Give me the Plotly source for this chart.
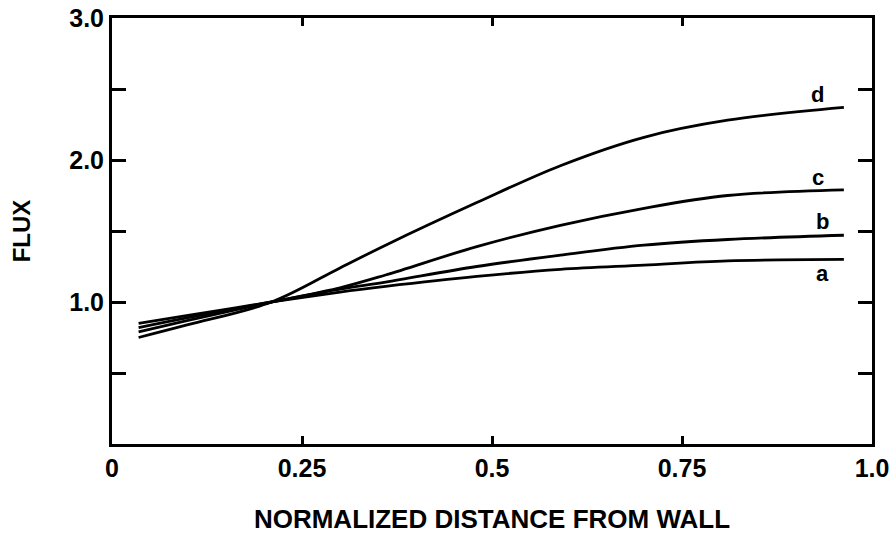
import plotly.graph_objects as go

x_vals = [0.035, 0.1, 0.21, 0.3, 0.36, 0.48, 0.59, 0.70, 0.81, 0.963]
flux_a = [0.85, 0.905, 1.0, 1.07, 1.11, 1.18, 1.23, 1.26, 1.29, 1.30]
flux_b = [0.82, 0.89, 1.0, 1.09, 1.14, 1.25, 1.33, 1.40, 1.44, 1.47]
flux_c = [0.79, 0.87, 1.0, 1.10, 1.19, 1.39, 1.54, 1.66, 1.75, 1.79]
flux_d = [0.75, 0.84, 1.0, 1.24, 1.40, 1.70, 1.96, 2.16, 2.28, 2.37]
series_names = ["a", "b", "c", "d"]
x_tickvals = [0, 0.25, 0.5, 0.75, 1.0]
x_ticktext = ["0", "0.25", "0.5", "0.75", "1.0"]
y_tickvals = [0.5, 1.0, 1.5, 2.0, 2.5, 3.0]
y_ticktext = ["", "1.0", "", "2.0", "", "3.0"]

FONT = "Liberation Sans, Arial, sans-serif"

fig = go.Figure()
all_series = [flux_a, flux_b, flux_c, flux_d]
label_shift = {"a": (-21, -14), "b": (-21, 14), "c": (-26, 12), "d": (-26, 13)}
for name, ys in zip(series_names, all_series):
    fig.add_trace(go.Scatter(
        x=x_vals, y=ys, mode="lines", name=name,
        line=dict(color="black", width=2.8, shape="spline", smoothing=1.0),
        showlegend=False, hoverinfo="skip"))
    dx, dy = label_shift[name]
    fig.add_annotation(x=x_vals[-1], y=ys[-1], text="<b>%s</b>" % name,
                       showarrow=False, xshift=dx, yshift=dy,
                       font=dict(family=FONT, size=22, color="black"))

fig.update_layout(
    width=893, height=534,
    margin=dict(l=112, r=21, t=18, b=90),
    paper_bgcolor="white", plot_bgcolor="white",
    font=dict(family=FONT, color="black"),
)
fig.update_xaxes(
    range=[0, 1], tickvals=x_tickvals, ticktext=["<b>%s</b>" % t for t in x_ticktext],
    ticks="inside", ticklen=8, tickwidth=2.5, tickcolor="black",
    showline=True, linecolor="black", linewidth=3, mirror="ticks",
    showgrid=False, zeroline=False, automargin=False,
    tickfont=dict(family=FONT, size=25, color="black"),
    title=dict(text="<b>NORMALIZED DISTANCE FROM WALL</b>", standoff=40,
               font=dict(family=FONT, size=26, color="black")),
)
fig.update_yaxes(
    range=[0, 3], tickvals=y_tickvals, ticktext=["<b>%s</b>" % t if t else "" for t in y_ticktext],
    ticks="inside", ticklen=14, tickwidth=2.5, tickcolor="black",
    showline=True, linecolor="black", linewidth=3, mirror="ticks",
    showgrid=False, zeroline=False, automargin=False,
    tickfont=dict(family=FONT, size=25, color="black"),
    title=dict(text="<b>FLUX</b>", standoff=32,
               font=dict(family=FONT, size=24, color="black")),
)

fig.write_html("out.html")
